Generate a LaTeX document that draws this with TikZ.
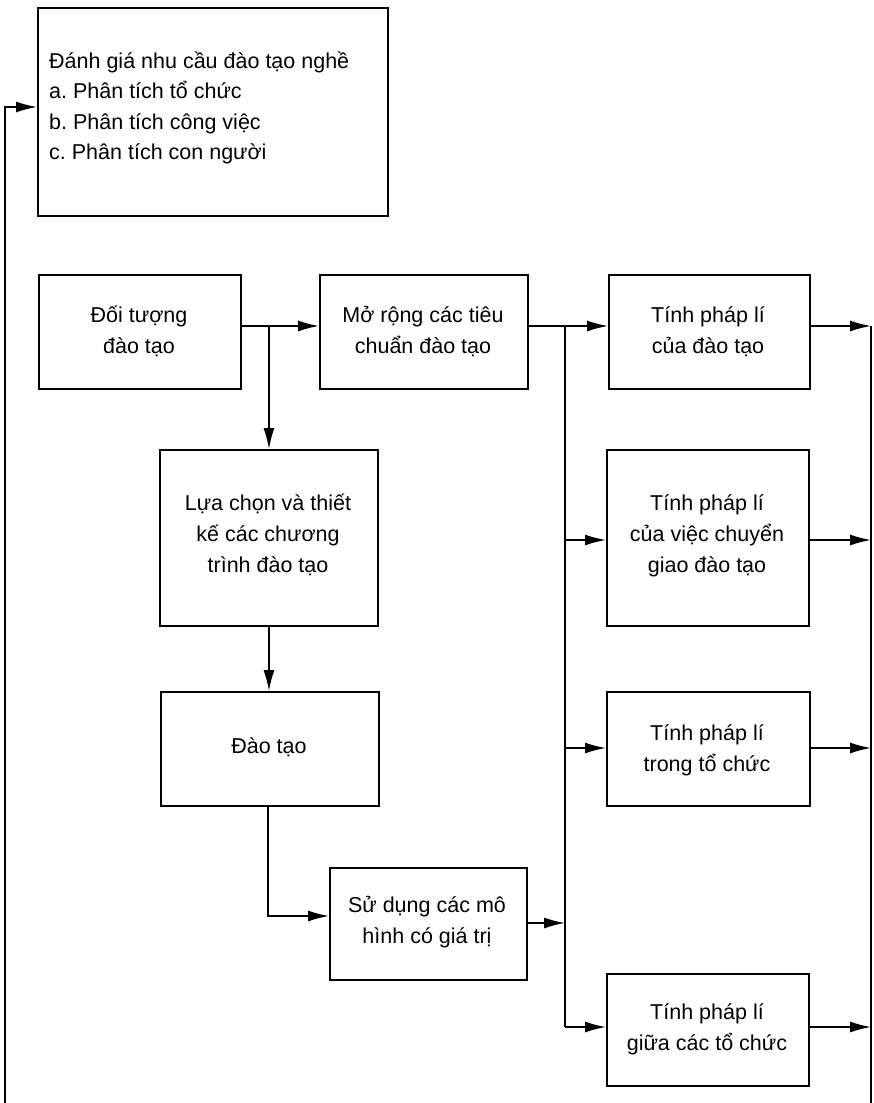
\documentclass[tikz,border=0pt]{standalone}
\usepackage{fontspec}
\setmainfont{Liberation Sans}
\usetikzlibrary{arrows.meta,calc}
\frenchspacing
\newcommand\fs{\fontsize{21.5}{31}\selectfont}
\newcommand\ctrcol[1]{\begin{tabular}[t]{@{}c@{}}#1\end{tabular}}
\newcommand\lftcol[1]{\begin{tabular}[t]{@{}l@{}}#1\end{tabular}}
\begin{document}
\begin{tikzpicture}[x=1pt,y=-1pt,
  box/.style={draw, line width=1.9pt, inner sep=0pt, anchor=north west},
  txt/.style={font=\fs, inner sep=0pt, anchor=base},
  ln/.style={line width=1.6pt},
  arr/.style={line width=1.6pt, -{Latex[length=21pt,width=11pt]}}]
\useasboundingbox (0,0) rectangle (874,1103);
% boxes
\node[box, minimum width=350pt, minimum height=208pt] (need) at (37,7) {};
\node[box, minimum width=202pt, minimum height=114pt] (obj) at (38,274) {};
\node[box, minimum width=208pt, minimum height=114pt] (std) at (319,274) {};
\node[box, minimum width=201pt, minimum height=114pt] (l1) at (608,274) {};
\node[box, minimum width=218pt, minimum height=176pt] (sel) at (159,449) {};
\node[box, minimum width=202pt, minimum height=176pt] (l2) at (606,449) {};
\node[box, minimum width=218pt, minimum height=114pt] (trn) at (160,691) {};
\node[box, minimum width=203pt, minimum height=114pt] (l3) at (606,691) {};
\node[box, minimum width=197pt, minimum height=112pt] (use) at (329,867) {};
\node[box, minimum width=202pt, minimum height=112pt] (l4) at (606,973) {};
% texts
\node[txt, anchor=base west] (needt) at (49,68) {\fontsize{21.5}{30.5}\selectfont\lftcol{Đánh giá nhu cầu đào tạo nghề\\a. Phân tích tổ chức\\b. Phân tích công việc\\c. Phân tích con người}};
\node[txt] (objt) at (139,322) {\ctrcol{Đối tượng\\đào tạo}};
\node[txt] (stdt) at (423,322) {\ctrcol{Mở rộng các tiêu\\chuẩn đào tạo}};
\node[txt] (l1t) at (708,322) {\ctrcol{Tính pháp lí\\của đào tạo}};
\node[txt] (selt) at (268,510) {\ctrcol{Lựa chọn và thiết\\kế các chương\\trình đào tạo}};
\node[txt] (l2t) at (707,510) {\ctrcol{Tính pháp lí\\của việc chuyển\\giao đào tạo}};
\node[txt] (trnt) at (269,753) {Đào tạo};
\node[txt] (l3t) at (707,740) {\ctrcol{Tính pháp lí\\trong tổ chức}};
\node[txt] (uset) at (427,912) {\ctrcol{Sử dụng các mô\\hình có giá trị}};
\node[txt] (l4t) at (707,1019) {\ctrcol{Tính pháp lí\\giữa các tổ chức}};
% coordinates
\coordinate (b1) at (269,326);
\coordinate (bus0) at (565,326);
\coordinate (bus1) at (565,540);
\coordinate (bus2) at (565,748);
\coordinate (bus3) at (565,1027);
\coordinate (busu) at (565,923);
\coordinate (rtop) at (871,326);
\coordinate (rbot) at (871,1103);
\coordinate (lbot) at (5,1103);
\coordinate (ltop) at (5,107);
\coordinate (tk) at (268,916);
% connectors
\draw[arr] (obj.east |- b1) -- (std.west |- b1);
\draw[arr] (b1) -- (sel.north);
\draw[arr] (sel.south) -- (trn.north -| sel.south);
\draw[arr] (trn.south -| tk) -- (tk) -- (use.west |- tk);
\draw[arr] (std.east |- bus0) -- (l1.west |- bus0);
\draw[ln] (bus0) -- (bus3);
\draw[arr] (bus1) -- (l2.west |- bus1);
\draw[arr] (bus2) -- (l3.west |- bus2);
\draw[arr] (bus3) -- (l4.west |- bus3);
\draw[arr] (use.east |- busu) -- (busu);
\draw[arr] (l1.east |- rtop) -- (rtop);
\draw[arr] (l2.east |- bus1) -- (rtop |- bus1);
\draw[arr] (l3.east |- bus2) -- (rtop |- bus2);
\draw[arr] (l4.east |- bus3) -- (rtop |- bus3);
\draw[ln] (rtop) -- (rbot);
\draw[arr] (lbot) -- (ltop) -- (need.west |- ltop);
\end{tikzpicture}
\end{document}
